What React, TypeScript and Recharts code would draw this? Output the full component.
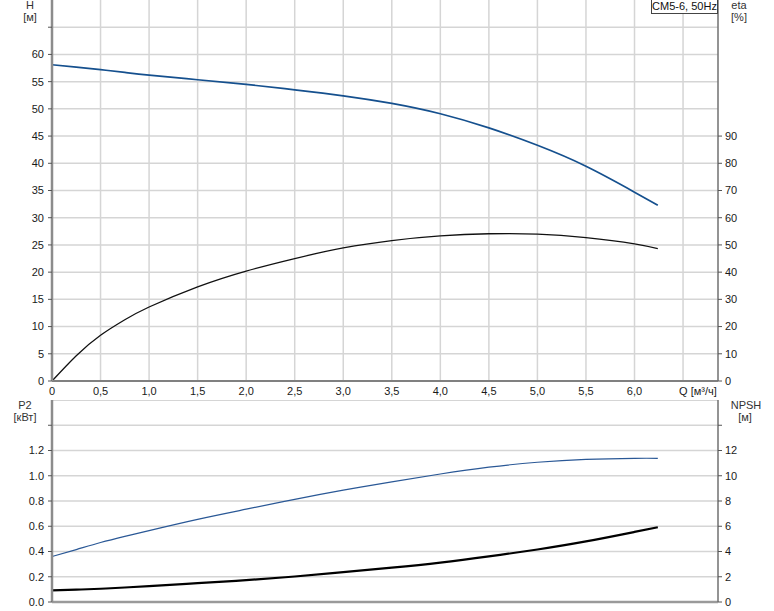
import React from 'react'
import { CartesianGrid, Line, LineChart, ReferenceLine, XAxis, YAxis } from 'recharts'

// flow points
const flow = [0, 0.25, 0.5, 0.75, 1.0, 1.5, 2.0, 2.5, 3.0, 3.5, 4.0, 4.5, 5.0, 5.5, 6.0, 6.24]
const head = [58.1, 57.65, 57.2, 56.7, 56.2, 55.35, 54.5, 53.5, 52.4, 51.0, 49.1, 46.5, 43.3, 39.45, 34.7, 32.3]
const eta = [0, 9.3, 16.8, 22.5, 27.2, 34.6, 40.4, 45.0, 48.9, 51.6, 53.3, 54.1, 54.0, 52.7, 50.4, 48.6]
const power = [0.36, 0.415, 0.471, 0.52, 0.566, 0.655, 0.735, 0.813, 0.886, 0.952, 1.014, 1.068, 1.107, 1.13, 1.138, 1.138]
const npsh = [0.92, 0.98, 1.05, 1.15, 1.26, 1.49, 1.73, 2.02, 2.36, 2.72, 3.12, 3.61, 4.16, 4.8, 5.55, 5.92]

const qTicks = [0, 0.5, 1.0, 1.5, 2.0, 2.5, 3.0, 3.5, 4.0, 4.5, 5.0, 5.5, 6.0, 6.5]
const hTicks = [0, 5, 10, 15, 20, 25, 30, 35, 40, 45, 50, 55, 60, 65]
const etaTicks = [0, 10, 20, 30, 40, 50, 60, 70, 80, 90]
const p2Ticks = [0, 0.2, 0.4, 0.6, 0.8, 1.0, 1.2, 1.4]
const npshTicks = [0, 2, 4, 6, 8, 10, 12, 14]

const rows = flow.map((q, i) => ({ q, head: head[i], eta: eta[i], p2: power[i], npsh: npsh[i] }))

const FONT = '"Liberation Sans", Arial, sans-serif'
const GRID = '#d5d5d5'
const tickStyle = { fontSize: 11, fill: '#1a1a1a', fontFamily: FONT }
const QMAX = 6.86

function QTick(props: any) {
  const { x, y, payload } = props
  const v = payload.value as number
  if (v === 6.5) {
    return (
      <text x={x - 4} y={y} dy="0.71em" textAnchor="start" style={tickStyle}>
        Q [м³/ч]
      </text>
    )
  }
  const label = v === 0 ? '0' : v.toFixed(1).replace('.', ',')
  return (
    <text x={x} y={y} dy="0.71em" textAnchor="middle" style={tickStyle}>
      {label}
    </text>
  )
}

const label = (x: number, y: number, text: string) => (
  <div
    style={{
      position: 'absolute', left: x - 30, top: y - 7, width: 60, textAlign: 'center',
      fontFamily: FONT, fontSize: 11, color: '#333', lineHeight: '14px',
    }}
  >
    {text}
  </div>
)

export default function App() {
  return (
    <div style={{ position: 'absolute', left: 0, top: 0, width: 774, height: 611, background: '#fff' }}>
      <div style={{ position: 'absolute', left: 0, top: 0 }}>
        <LineChart width={774} height={400} data={rows} margin={{ top: 0, right: 0, left: 0, bottom: 0 }}>
          <CartesianGrid yAxisId="h" stroke={GRID} strokeWidth={1.5} horizontalValues={hTicks} verticalValues={qTicks} />
          <XAxis
            dataKey="q" type="number" domain={[0, QMAX]} ticks={qTicks} height={19}
            tickLine={false} tickSize={4} tickMargin={2} tick={<QTick />}
            axisLine={{ stroke: '#808080', strokeWidth: 2 }} allowDataOverflow
          />
          <YAxis
            yAxisId="h" orientation="left" width={52} domain={[0, 70]} ticks={hTicks}
            tickFormatter={(v: number) => (v > 60 ? '' : String(v))}
            tick={tickStyle} tickSize={4} tickMargin={4}
            tickLine={{ stroke: '#555' }} axisLine={{ stroke: '#8c8c8c', strokeWidth: 2.5 }}
          />
          <YAxis
            yAxisId="eta" orientation="right" width={56} domain={[0, 140]} ticks={etaTicks}
            tick={tickStyle} tickSize={4} tickMargin={3}
            tickLine={{ stroke: '#555' }} axisLine={{ stroke: '#707070', strokeWidth: 1.5 }}
          />
          <Line yAxisId="h" type="natural" dataKey="head" stroke="#15508e" strokeWidth={1.7} dot={false} isAnimationActive={false} />
          <Line yAxisId="eta" type="natural" dataKey="eta" stroke="#111" strokeWidth={1.3} dot={false} isAnimationActive={false} />
        </LineChart>
      </div>

      <div style={{ position: 'absolute', left: 0, top: 400 }}>
        <LineChart width={774} height={211} data={rows} margin={{ top: 0, right: 0, left: 0, bottom: 0 }}>
          <CartesianGrid yAxisId="p2" stroke={GRID} strokeWidth={1.5} horizontalValues={p2Ticks} verticalValues={qTicks} />
          <ReferenceLine yAxisId="p2" y={1.6} stroke={GRID} strokeWidth={2} />
          <XAxis
            dataKey="q" type="number" domain={[0, QMAX]} ticks={qTicks} height={9}
            tick={false} tickLine={false} axisLine={{ stroke: '#9a9a9a', strokeWidth: 2.5 }}
          />
          <YAxis
            yAxisId="p2" orientation="left" width={52} domain={[0, 1.6]} ticks={p2Ticks}
            tickFormatter={(v: number) => (v > 1.3 ? '' : v.toFixed(1))}
            tick={tickStyle} tickSize={4} tickMargin={4}
            tickLine={{ stroke: '#555' }} axisLine={{ stroke: '#8c8c8c', strokeWidth: 2.5 }}
          />
          <YAxis
            yAxisId="npsh" orientation="right" width={56} domain={[0, 16]} ticks={npshTicks}
            tickFormatter={(v: number) => (v > 13 ? '' : String(v))}
            tick={tickStyle} tickSize={4} tickMargin={3}
            tickLine={{ stroke: '#555' }} axisLine={{ stroke: '#707070', strokeWidth: 1.5 }}
          />
          <Line yAxisId="p2" type="natural" dataKey="p2" stroke="#2a5896" strokeWidth={1.2} dot={false} isAnimationActive={false} />
          <Line yAxisId="npsh" type="natural" dataKey="npsh" stroke="#000" strokeWidth={2.2} dot={false} isAnimationActive={false} />
        </LineChart>
      </div>

      {label(30, 5, 'H')}
      {label(30, 17, '[м]')}
      {label(739, 5, 'eta')}
      {label(739, 17, '[%]')}
      {label(25, 405, 'P2')}
      {label(25, 417, '[кВт]')}
      {label(746, 405, 'NPSH')}
      {label(745, 417, '[м]')}

      <div
        style={{
          position: 'absolute', left: 651, top: 0, width: 65, height: 13,
          border: '1px solid #444', borderTop: 'none', background: '#fff',
          fontFamily: FONT, fontSize: 11, lineHeight: '13px', textAlign: 'center', color: '#111',
        }}
      >
        CM5-6, 50Hz
      </div>
    </div>
  )
}
